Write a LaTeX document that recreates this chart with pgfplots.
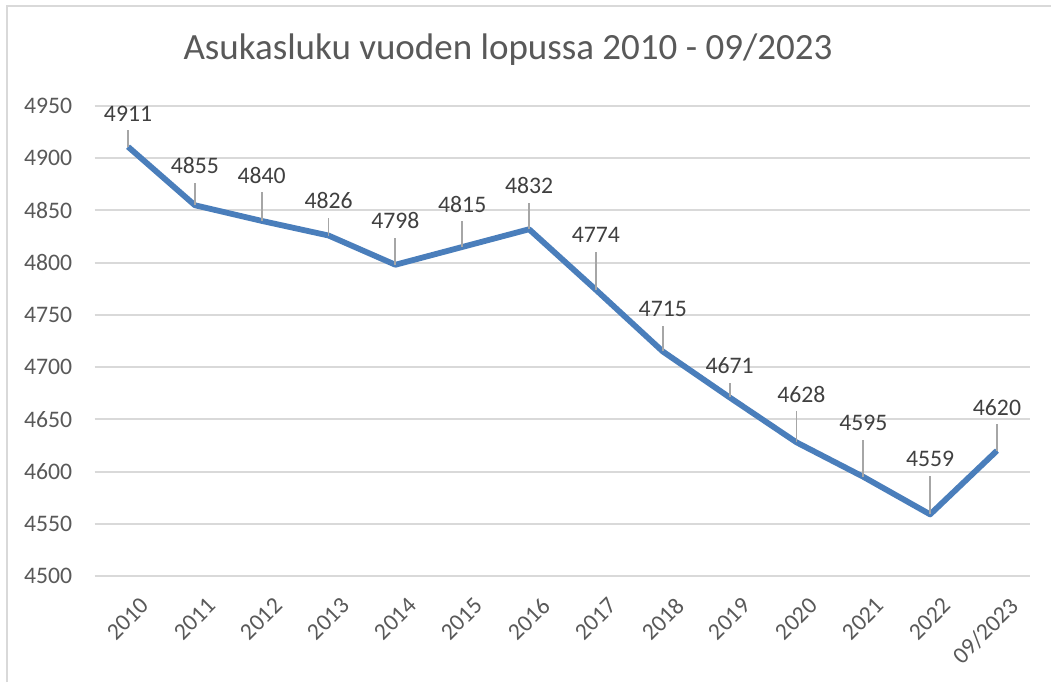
\documentclass[border=0pt]{standalone}
\usepackage{fontspec}
\setmainfont{Carlito}
\usepackage{pgfplots}
\usepackage{pgfplotstable}
\pgfplotsset{compat=1.18}
\definecolor{lineblue}{RGB}{74,126,187}
\definecolor{gridgray}{RGB}{217,217,217}
\definecolor{framegray}{RGB}{217,217,217}
\definecolor{leadergray}{RGB}{166,166,166}
\definecolor{labelgray}{RGB}{89,89,89}
\definecolor{datagray}{RGB}{64,64,64}
\pgfplotstableread{
x y off xoff
0 4911 16.7 0
1 4855 19.85 0
2 4840 22.7 0
3 4826 17.35 0
4 4798 21.9 0
5 4815 21.5 0
6 4832 21.65 0
7 4774 27.65 0
8 4715 21.1 0
9 4671 15.7 0
10 4628 24.15 2.5
11 4595 26.9 0
12 4559 27.7 0
13 4620 21.6 0
}\data
\begin{document}
\begin{tikzpicture}
\path[use as bounding box, fill=white] (-47.3pt,-53pt) rectangle (478.2pt,288pt);
\draw[framegray, line width=1pt] (-43.8pt,-53pt) -- (-43.8pt,285pt) -- (478.2pt,285pt);
\node[font=\fontsize{18.5}{22}\selectfont, text=labelgray] at (206.7pt,263pt) {Asukasluku vuoden lopussa 2010 - 09/2023};
\begin{axis}[
  at={(0,0)}, anchor=south west,
  scale only axis, width=467.9pt, height=235pt,
  xmin=-0.5, xmax=13.5, ymin=4500, ymax=4950,
  ytick distance=50,
  xtick={0,...,13},
  xticklabels={2010,2011,2012,2013,2014,2015,2016,2017,2018,2019,2020,2021,2022,09/2023},
  axis line style={draw=none},
  major tick length=0pt,
  ymajorgrids, grid style={gridgray, line width=1pt},
  /pgf/number format/assume math mode=true,
  /pgf/number format/1000 sep={},
  ticklabel style={font=\fontsize{11.85}{14}\selectfont, text=labelgray},
  yticklabel style={anchor=east, inner sep=0pt, xshift=-11pt},
  xticklabel style={rotate=45, anchor=north east, inner sep=0pt, xshift=-3pt, yshift=-11pt},
  clip=false,
]
\addplot[lineblue, line width=2.9pt, line join=round, mark=none] table[x=x,y=y]{\data};
\addplot[leadergray, line width=0.9pt, mark=none,
  quiver={u=0, v={(\thisrow{off}-8.5)*1.915}}] table[x=x,y=y]{\data};
\addplot[draw=none, mark=none, nodes near coords, point meta=explicit symbolic,
  visualization depends on={\thisrow{off}\as\myoff},
  visualization depends on={\thisrow{xoff}\as\myxoff},
  nodes near coords style={anchor=center, inner sep=0pt, yshift=\myoff, xshift=\myxoff,
    font=\fontsize{11.85}{14}\selectfont, text=datagray}]
  table[x=x,y=y,meta=y]{\data};
\end{axis}
\end{tikzpicture}
\end{document}
